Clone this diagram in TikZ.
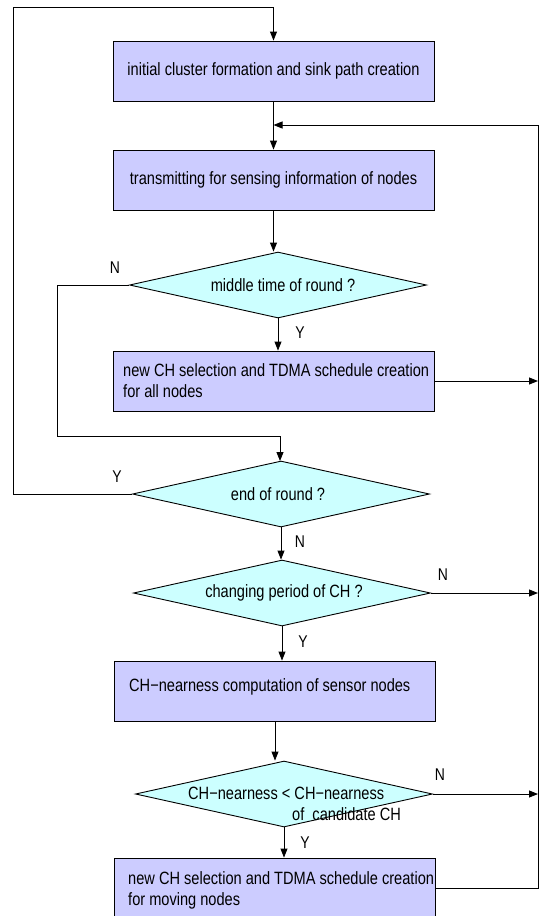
\documentclass[tikz,border=0pt]{standalone}
\usepackage{fontspec}
\setmainfont{Liberation Sans}[FakeStretch=0.82]
\usetikzlibrary{arrows.meta,shapes.geometric}
\definecolor{boxc}{HTML}{CCCCFF}
\definecolor{diac}{HTML}{CCFFFF}
\begin{document}
\begin{tikzpicture}[x=1pt,y=-1pt,
  proc/.style={draw, fill=boxc, minimum width=321pt, minimum height=60pt, inner sep=0pt, line width=0.9pt},
  dia/.style={draw, fill=diac, shape=diamond, minimum width=297pt, minimum height=66pt, inner sep=0pt, line width=0.9pt},
  txt/.style={font=\fontsize{17.8}{21}\selectfont, inner sep=0pt, align=left},
  lbl/.style={font=\fontsize{17}{18}\selectfont, inner sep=0pt},
  arr/.style={-{Triangle[length=9pt,width=7pt]}, line width=0.9pt},
  ln/.style={line width=0.9pt}]
\useasboundingbox (0,0) rectangle (541,916);
\begin{scope}
\clip (0,0) rectangle (541,916);
% boxes
\node[proc] (b1) at (273.5,71) {};
\node[txt] at (b1) {initial cluster formation and sink path creation};
\node[proc] (b2) at (273.5,180) {};
\node[txt] at (b2) {transmitting for sensing information of nodes};
\node[dia] (d1) at (278,285) {};
\node[txt] at (283,285) {middle time of round ?};
\node[proc] (b3) at (274,381) {};
\node[txt, anchor=west] at (123,381) {new CH selection and TDMA schedule creation\\for all nodes};
\node[dia] (d2) at (281,494) {};
\node[txt] at (278,494) {end of round ?};
\node[dia] (d3) at (282,593) {};
\node[txt] at (284,593) {changing period of CH ?};
\node[proc] (b4) at (275,691) {};
\node[txt, anchor=west] at (129,687) {CH−nearness computation of sensor nodes};
\node[dia] (d4) at (284,794) {};
\node[txt, anchor=west] at (188,793) {CH−nearness < CH−nearness};
\node[txt, anchor=west] at (292,814) {of\ \ candidate CH};
\node[proc] (b5) at (275,888) {};
\node[txt, anchor=west] at (128,890) {new CH selection and TDMA schedule creation\\for moving nodes};
% coordinates
\coordinate (tl) at (13,7);
\coordinate (fb) at (538,125);
% connectors
\draw[ln] (d2.west) -- (tl |- d2.west) -- (tl);
\draw[arr] (tl) -- (tl -| b1.north) -- (b1.north);
\draw[arr] (b1.south) -- (b2.north);
\draw[arr] (b2.south) -- (b2.south |- d1.north);
\draw[arr] (d1.south) -- (d1.south |- b3.north);
\draw[ln] (d1.west) -- (57,285) -- (57,436) -- (280,436);
\draw[arr] (280,436) -- (280,461);
\draw[arr] (d2.south) -- (d2.south |- d3.north);
\draw[arr] (d3.south) -- (d3.south |- b4.north);
\draw[arr] (b4.south) -- (b4.south |- d4.north);
\draw[arr] (d4.south) -- (d4.south |- b5.north);
\draw[arr] (b3.east) -- (fb |- b3.east);
\draw[arr] (d3.east) -- (fb |- d3.east);
\draw[arr] (d4.east) -- (fb |- d4.east);
\draw[ln] (b5.east) -- (fb |- b5.east) -- (fb);
\draw[arr] (fb) -- (b1.south |- fb);
% labels
\node[lbl] (n1) at (115,268) {N};
\node[lbl] (y1) at (300,333) {Y};
\node[lbl] (y2) at (117,477) {Y};
\node[lbl] (n2) at (300,542) {N};
\node[lbl] (n3) at (443,575) {N};
\node[lbl] (y3) at (303,642) {Y};
\node[lbl] (n4) at (440,775) {N};
\node[lbl] (y4) at (305,843) {Y};
\end{scope}
\end{tikzpicture}
\end{document}
